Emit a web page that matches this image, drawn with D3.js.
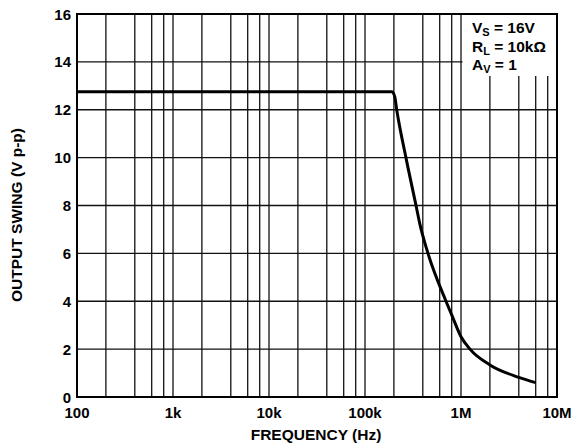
<!DOCTYPE html>
<html>
<head>
<meta charset="utf-8">
<script src="https://cdn.jsdelivr.net/npm/d3@7/dist/d3.min.js"></script>
<style>
  html, body { margin: 0; padding: 0; background: #fff; }
  svg { display: block; font-family: "Liberation Sans", Arial, Helvetica, sans-serif; font-weight: bold; }
</style>
</head>
<body>
<svg id="chart" width="574" height="447"></svg>
<script>
// ---- data ----
const freqHz = [100, 190000, 204000, 214000, 267000, 340000, 374000, 453000, 698000, 800000, 1000000, 1240000, 2000000, 4000000, 6000000];
const swingVpp = [12.75, 12.75, 12.55, 12.0, 10.0, 8.0, 7.2, 6.0, 4.0, 3.43, 2.52, 2.0, 1.34, 0.82, 0.6];
const xTickValues = [100, 1e3, 1e4, 1e5, 1e6, 1e7];
const xTickLabels = ["100", "1k", "10k", "100k", "1M", "10M"];
const yTickValues = [0, 2, 4, 6, 8, 10, 12, 14, 16];
const gridMultipliers = [2, 4, 6, 8];
const legendLines = [
  { main: "V", sub: "S", rest: " = 16V" },
  { main: "R", sub: "L", rest: " = 10k\u03A9" },
  { main: "A", sub: "V", rest: " = 1" }
];

// ---- layout ----
const L = 77, R = 557, T = 14, B = 397;
const svg = d3.select("#chart");
const x = d3.scaleLog().domain([100, 1e7]).range([L, R]);
const y = d3.scaleLinear().domain([0, 16]).range([B, T]);

// vertical grid lines
const vGrid = [];
for (let e = 2; e < 7; e++) {
  gridMultipliers.forEach(m => vGrid.push(m * Math.pow(10, e)));
  vGrid.push(Math.pow(10, e + 1));
}
const g = svg.append("g");
g.selectAll("line.v").data(vGrid.filter(v => v < 1e7)).join("line")
  .attr("x1", d => x(d)).attr("x2", d => x(d))
  .attr("y1", T).attr("y2", B)
  .attr("stroke", "#111").attr("stroke-width", 1.3);
g.selectAll("line.h").data(yTickValues.filter(v => v > 0 && v < 16)).join("line")
  .attr("x1", L).attr("x2", R)
  .attr("y1", d => y(d)).attr("y2", d => y(d))
  .attr("stroke", "#111").attr("stroke-width", 1.3);

// legend box (white background covering grid)
svg.append("rect").attr("x", x(1e6) + 1.5).attr("y", T).attr("width", R - x(1e6) - 1.5).attr("height", 62).attr("fill", "#fff");

// curve
const pts = freqHz.map((f, i) => [f, swingVpp[i]]);
svg.append("path").datum(pts)
  .attr("d", d3.line().x(d => x(d[0])).y(d => y(d[1])).curve(d3.curveMonotoneX))
  .attr("fill", "none").attr("stroke", "#000").attr("stroke-width", 3)
  .attr("stroke-linejoin", "round");

// border
svg.append("rect").attr("x", L).attr("y", T).attr("width", R - L).attr("height", B - T)
  .attr("fill", "none").attr("stroke", "#000").attr("stroke-width", 2);

// y ticks
svg.append("g").selectAll("text").data(yTickValues).join("text")
  .attr("x", 71).attr("y", d => y(d) + 5.5)
  .attr("text-anchor", "end").attr("font-size", 15).text(d => d);

// x ticks
svg.append("g").selectAll("text").data(xTickValues).join("text")
  .attr("x", d => x(d)).attr("y", 418)
  .attr("text-anchor", "middle").attr("font-size", 15)
  .text((d, i) => xTickLabels[i]);

// axis titles
svg.append("text").attr("x", 316).attr("y", 440).attr("text-anchor", "middle")
  .attr("font-size", 15.5).text("FREQUENCY (Hz)");
svg.append("text").attr("transform", "translate(22,215) rotate(-90)")
  .attr("text-anchor", "middle").attr("font-size", 15.5).text("OUTPUT SWING (V p-p)");

// legend
const lg = svg.append("g");
legendLines.forEach((l, i) => {
  const t = lg.append("text").attr("x", 472).attr("y", 33 + i * 18.5).attr("font-size", 15.5);
  t.append("tspan").text(l.main);
  t.append("tspan").attr("font-size", 11).attr("dy", 3).text(l.sub);
  t.append("tspan").attr("dy", -3).text(l.rest);
});
</script>
</body>
</html>
